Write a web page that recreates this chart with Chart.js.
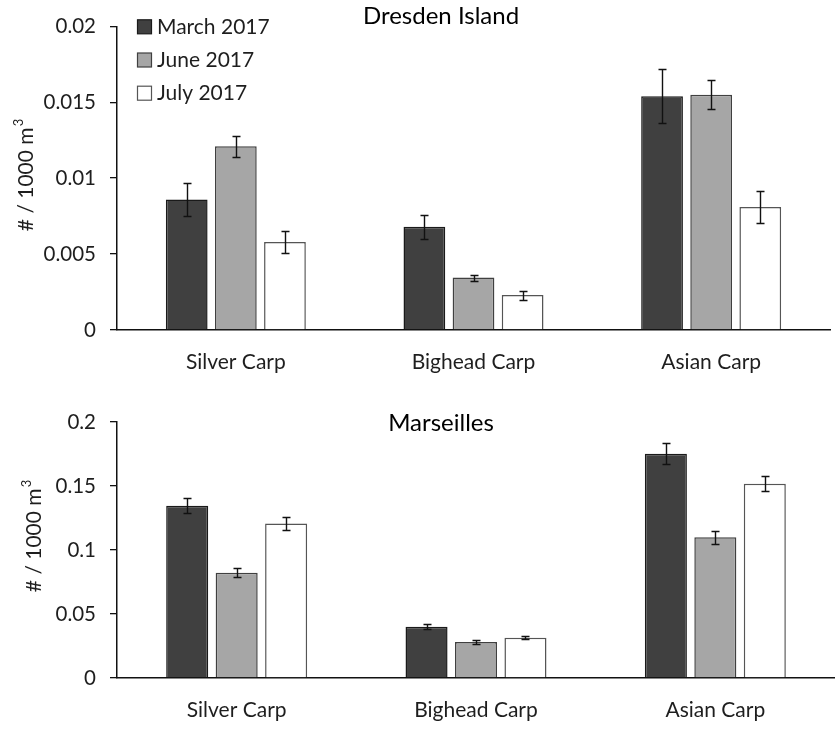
<!DOCTYPE html>
<html>
<head>
<meta charset="utf-8">
<script src="https://cdn.jsdelivr.net/npm/chart.js@4.4.1/dist/chart.umd.min.js"></script>
<style>
  html, body { margin: 0; padding: 0; background: #fff; }
  #wrap { position: relative; width: 835px; height: 730px; }
  canvas { position: absolute; left: 0; }
  #c1 { top: 0; }
  #c2 { top: 380px; }
</style>
</head>
<body>
<div id="wrap">
  <canvas id="c1" width="835" height="380"></canvas>
  <canvas id="c2" width="835" height="350"></canvas>
</div>
<script>
// ---- data ----
const categories = ['Silver Carp', 'Bighead Carp', 'Asian Carp'];
const seriesLabels = ['March 2017', 'June 2017', 'July 2017'];

const dresdenTitle = 'Dresden Island';
const dresdenMarch = [0.0086, 0.0068, 0.0154];
const dresdenJune  = [0.0121, 0.00345, 0.0155];
const dresdenJuly  = [0.0058, 0.0023, 0.0081];
const dresdenMarchErr = [0.0011, 0.0008, 0.0018];
const dresdenJuneErr  = [0.0007, 0.0002, 0.00097];
const dresdenJulyErr  = [0.00075, 0.0003, 0.00106];
const dresdenTicks = [0, 0.005, 0.01, 0.015, 0.02];

const marseillesTitle = 'Marseilles';
const marseillesMarch = [0.1346, 0.0401, 0.1752];
const marseillesJune  = [0.0823, 0.0281, 0.1099];
const marseillesJuly  = [0.1208, 0.0315, 0.1518];
const marseillesMarchErr = [0.006, 0.0017, 0.0083];
const marseillesJuneErr  = [0.0035, 0.0012, 0.005];
const marseillesJulyErr  = [0.0048, 0.0013, 0.0058];
const marseillesTicks = [0, 0.05, 0.1, 0.15, 0.2];

const yTitleMain = '# / 1000 m';
const yTitleSup = '3';

// ---- styles ----
const FONT = 'Lato';
const TEXT = '#1e1e1e';
const fills = ['#404040', '#a6a6a6', '#ffffff'];
const borders = ['#1a1a1a', '#404040', '#555555'];

const errorBarPlugin = {
  id: 'errorBars',
  afterDatasetsDraw(chart) {
    const ctx = chart.ctx;
    const ys = chart.scales.y;
    ctx.save();
    ctx.strokeStyle = '#111';
    ctx.lineWidth = 1.4;
    chart.data.datasets.forEach((ds, di) => {
      const meta = chart.getDatasetMeta(di);
      meta.data.forEach((bar, i) => {
        const v = ds.data[i], e = ds.errors[i];
        const yt = Math.round(ys.getPixelForValue(v + e)) + 0.5;
        const yb = Math.round(ys.getPixelForValue(v - e)) + 0.5;
        const x = Math.round(bar.x) + 0.5;
        ctx.beginPath();
        ctx.moveTo(x, yt); ctx.lineTo(x, yb);
        ctx.moveTo(x - 4, yt); ctx.lineTo(x + 4, yt);
        ctx.moveTo(x - 4, yb); ctx.lineTo(x + 4, yb);
        ctx.stroke();
      });
    });
    ctx.restore();
  }
};

const textPlugin = {
  id: 'extraText',
  afterDraw(chart, args, opts) {
    const ctx = chart.ctx;
    ctx.save();
    ctx.fillStyle = '#000';
    ctx.font = `24px ${FONT}`;
    ctx.textAlign = 'center';
    ctx.textBaseline = 'middle';
    ctx.fillText(opts.title, opts.titleX, opts.titleY);
    // y-axis title with superscript
    ctx.save();
    ctx.translate(opts.yTitleX, opts.yTitleY);
    ctx.rotate(-Math.PI / 2);
    ctx.fillStyle = TEXT;
    ctx.font = `21px ${FONT}`;
    const wMain = ctx.measureText(yTitleMain).width;
    ctx.font = `13px ${FONT}`;
    const wSup = ctx.measureText(yTitleSup).width;
    const start = -(wMain + wSup + 1) / 2;
    ctx.textAlign = 'left';
    ctx.font = `21px ${FONT}`;
    ctx.fillText(yTitleMain, start, 0);
    ctx.font = `13px ${FONT}`;
    ctx.fillText(yTitleSup, start + wMain + 1, -7);
    ctx.restore();
    if (opts.legend) {
      const a = chart.chartArea;
      ctx.textAlign = 'left';
      ctx.font = `21px ${FONT}`;
      chart.data.datasets.forEach((ds, i) => {
        const y = a.top + 1 + i * 33.2;
        ctx.fillStyle = ds.backgroundColor;
        ctx.fillRect(a.left + 20.5, y - 7.5, 14, 14);
        ctx.strokeStyle = ds.borderColor;
        ctx.lineWidth = 1.2;
        ctx.strokeRect(a.left + 20.5, y - 7.5, 14, 14);
        ctx.fillStyle = TEXT;
        ctx.fillText(ds.label, a.left + 40, y);
      });
    }
    ctx.restore();
  }
};

function makeChart(id, vals, errs, ticks, title, opts) {
  const datasets = vals.map((v, i) => ({
    label: seriesLabels[i],
    data: v,
    errors: errs[i],
    backgroundColor: fills[i],
    borderColor: borders[i],
    borderWidth: 1.5,
    categoryPercentage: 0.62,
    barPercentage: 0.85
  }));
  return new Chart(document.getElementById(id), {
    type: 'bar',
    data: { labels: categories, datasets },
    plugins: [errorBarPlugin, textPlugin],
    options: {
      responsive: false,
      animation: false,
      layout: { padding: { top: opts.padTop, right: opts.padRight, left: 0, bottom: 0 } },
      plugins: {
        legend: { display: false },
        tooltip: { enabled: false },
        extraText: { title, titleX: opts.titleX, titleY: opts.titleY, legend: opts.legend,
                     yTitleX: opts.yTitleX, yTitleY: opts.yTitleY }
      },
      scales: {
        x: {
          grid: { display: false, drawTicks: false },
          border: { display: true, color: '#111', width: 1.5 },
          ticks: { color: TEXT, font: { family: FONT, size: 21 }, padding: opts.xPad },
          afterFit: s => { s.height = opts.xHeight; }
        },
        y: {
          min: ticks[0],
          max: ticks[ticks.length - 1],
          afterBuildTicks: s => { s.ticks = ticks.map(v => ({ value: v })); },
          grid: { drawOnChartArea: false, drawTicks: true, tickLength: 7, color: '#111', lineWidth: 1.3 },
          border: { display: true, color: '#111', width: 1.5 },
          ticks: {
            color: TEXT,
            font: { family: FONT, size: 20.5 },
            padding: 14,
            callback: v => String(+Number(v).toFixed(4))
          },
          afterFit: s => { s.width = 117; }
        }
      }
    }
  });
}

makeChart('c1',
  [dresdenMarch, dresdenJune, dresdenJuly],
  [dresdenMarchErr, dresdenJuneErr, dresdenJulyErr],
  dresdenTicks, dresdenTitle,
  { padTop: 21, padRight: 5, xHeight: 50, xPad: 20, titleX: 441, titleY: 16, legend: true,
    yTitleX: 26, yTitleY: 175 });

makeChart('c2',
  [marseillesMarch, marseillesJune, marseillesJuly],
  [marseillesMarchErr, marseillesJuneErr, marseillesJulyErr],
  marseillesTicks, marseillesTitle,
  { padTop: 42, padRight: 0, xHeight: 52, xPad: 20, titleX: 441, titleY: 43, legend: false,
    yTitleX: 34, yTitleY: 156 });
</script>
</body>
</html>
